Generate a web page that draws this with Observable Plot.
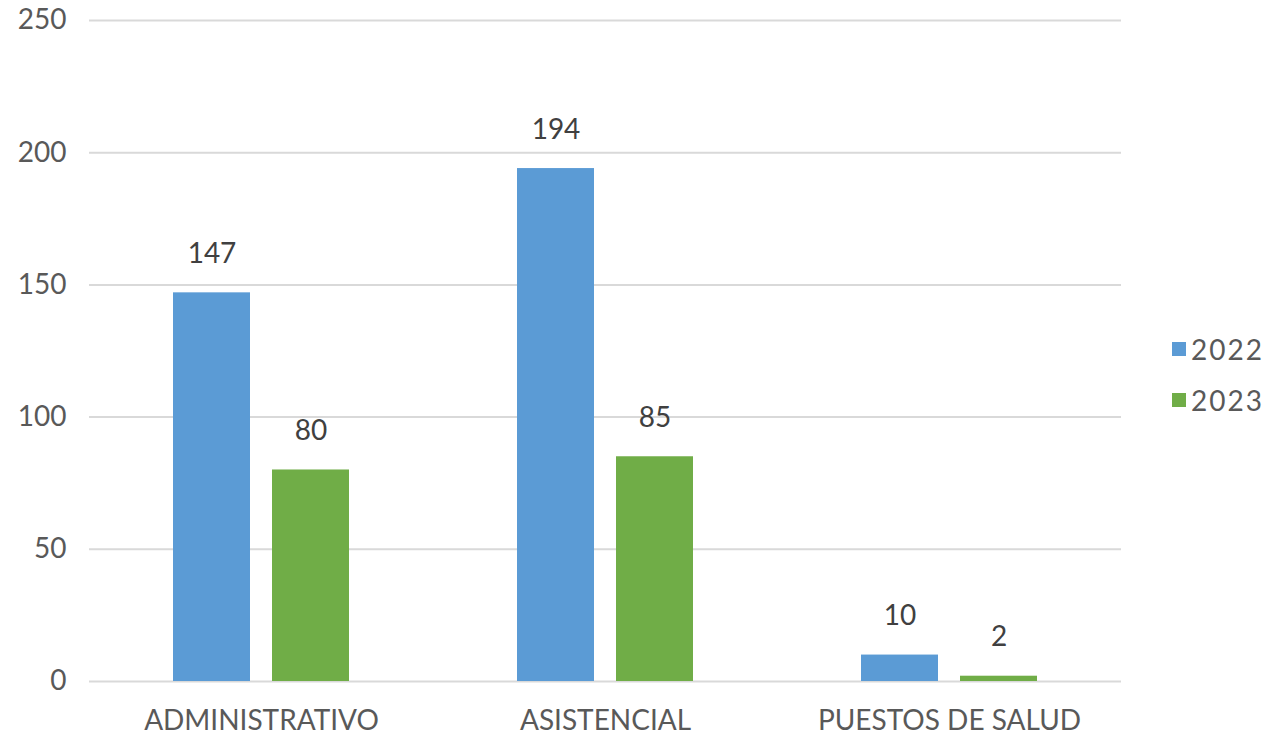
<!DOCTYPE html>
<html><head><meta charset="utf-8">
<script src="https://cdn.jsdelivr.net/npm/d3@7"></script>
<script src="https://cdn.jsdelivr.net/npm/@observablehq/plot@0.6"></script>
<style>
body{margin:0;background:#fff;font-family:Lato,"Open Sans",sans-serif;}
#wrap{position:relative;width:1276px;height:738px;}
.leg{position:absolute;left:1172px;display:flex;align-items:center;font-size:28px;letter-spacing:2px;color:#595959;}
.leg span.sw{display:inline-block;width:14px;height:14px;margin-right:5px;}
</style></head><body>
<div id="wrap"></div>
<script>
const categories = ["ADMINISTRATIVO","ASISTENCIAL","PUESTOS DE SALUD"];
const years = ["2022","2023"];
const values2022 = [147,194,10];
const values2023 = [80,85,2];
const yTicks = [0,50,100,150,200,250];
const colors = ["#5b9bd5","#70ad47"];

const data = [];
categories.forEach((c,i)=>{
  data.push({cat:c, year:years[0], v:values2022[i]});
  data.push({cat:c, year:years[1], v:values2023[i]});
});

const chart = Plot.plot({
  width:1276, height:738,
  marginLeft:88, marginRight:154, marginTop:20, marginBottom:57,
  style:{fontFamily:"Lato, 'Open Sans', sans-serif", fontSize:"27px", color:"#595959", background:"#fff"},
  fx:{domain:categories, padding:0, label:null, axis:null},
  x:{domain:years, paddingInner:0.225, paddingOuter:0.84, axis:null},
  y:{domain:[0,250], ticks:yTicks, label:null, axis:null},
  color:{domain:years, range:colors},
  marks:[
    Plot.ruleY(yTicks, {stroke:"#d9d9d9", strokeWidth:2}),
    Plot.barY(data, {fx:"cat", x:"year", y:"v", fill:"year"}),
    Plot.text(data, {fx:"cat", x:"year", y:"v", text:d=>String(d.v), dy:-39, fill:"#404040", fontSize:28, letterSpacing:1.5}),
    Plot.axisY({ticks:yTicks, tickSize:0, tickPadding:23, fontSize:28, fill:"#595959", label:null}),
    Plot.axisFx({anchor:"bottom", tickSize:0, tickPadding:29, fontSize:28, letterSpacing:0.3, fill:"#595959", label:null})
  ]
});
const wrap = document.getElementById("wrap");
wrap.appendChild(chart);
years.forEach((y,i)=>{
  const d = document.createElement("div");
  d.className="leg";
  d.style.top = (i===0?332:383)+"px";
  d.innerHTML = `<span class="sw" style="background:${colors[i]}"></span>${y}`;
  wrap.appendChild(d);
});
</script>
</body></html>
